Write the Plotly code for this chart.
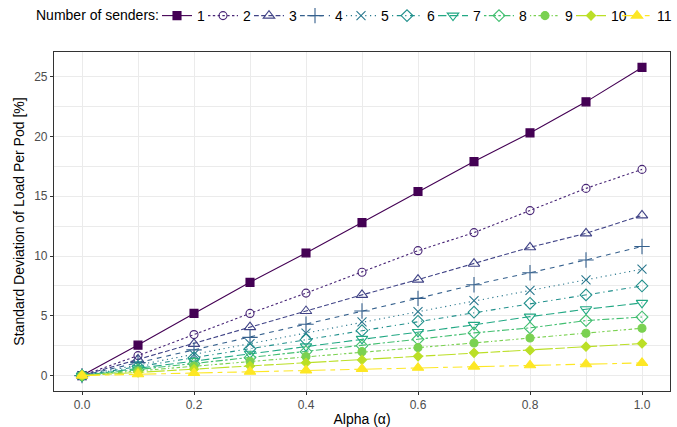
import plotly.graph_objects as go

alpha = [0.0, 0.1, 0.2, 0.3, 0.4, 0.5, 0.6, 0.7, 0.8, 0.9, 1.0]
senders = ["1", "2", "3", "4", "5", "6", "7", "8", "9", "10", "11"]

s1 = [0, 2.55, 5.2, 7.8, 10.26, 12.8, 15.4, 17.9, 20.3, 22.9, 25.78]
s2 = [0, 1.67, 3.43, 5.2, 6.9, 8.65, 10.45, 11.96, 13.8, 15.66, 17.25]
s3 = [0, 1.35, 2.65, 4.05, 5.4, 6.75, 8.03, 9.36, 10.73, 11.9, 13.4]
s4 = [0, 1.08, 2.15, 3.2, 4.3, 5.4, 6.46, 7.6, 8.6, 9.67, 10.8]
s5 = [0, 0.89, 1.78, 2.67, 3.56, 4.5, 5.35, 6.27, 7.13, 8.0, 8.9]
s6 = [0, 0.75, 1.5, 2.25, 3.0, 3.76, 4.54, 5.3, 6.05, 6.75, 7.5]
s7 = [0, 0.61, 1.22, 1.83, 2.44, 3.07, 3.65, 4.24, 4.93, 5.55, 6.08]
s8 = [0, 0.5, 1.0, 1.5, 2.0, 2.5, 3.04, 3.57, 3.99, 4.6, 4.9]
s9 = [0, 0.4, 0.8, 1.2, 1.6, 2.0, 2.34, 2.73, 3.15, 3.54, 3.96]
s10 = [0, 0.27, 0.54, 0.8, 1.07, 1.31, 1.61, 1.9, 2.12, 2.42, 2.68]
s11 = [0, 0.11, 0.21, 0.32, 0.43, 0.56, 0.65, 0.75, 0.86, 0.95, 1.06]
series = [s1, s2, s3, s4, s5, s6, s7, s8, s9, s10, s11]

colors = ["#440154", "#482576", "#414487", "#35608D", "#2A788E", "#21908C",
          "#22A884", "#43BF71", "#7AD151", "#BBDF27", "#FDE725"]
symbols = ["square", "circle-open", "triangle-up-open", "cross-thin-open", "x-thin-open",
           "diamond-open", "triangle-down-open", "diamond-open", "circle", "diamond", "triangle-up"]
sizes = [8, 8, 10, 11, 9, 9, 10, 9, 8, 7, 10]

u = 1.2
def dash(pat):
    if pat == "solid":
        return "solid"
    vals = [15 if c == "F" else int(c, 16) for c in pat]
    return ",".join(f"{v*u:.1f}px" for v in vals)

ltys = ["solid", "22", "42", "44", "13", "1343", "73", "2262", "12223242", "F282", "F4448444"]
lwidths = [1, 1, 1, 1, 1, 1, 1, 1, 1, 1, 16]

FONT = "Liberation Sans, Arial, sans-serif"

fig = go.Figure()
for i, (name, ys) in enumerate(zip(senders, series)):
    fig.add_trace(go.Scatter(
        x=alpha, y=ys, name=name, mode="lines+markers",
        line=dict(color=colors[i], width=1.1, dash=dash(ltys[i])),
        marker=dict(symbol=symbols[i], size=sizes[i], color=colors[i],
                    line=dict(color=colors[i], width=1.1)),
        legendwidth=lwidths[i],
    ))

fig.update_layout(
    width=677, height=427,
    margin=dict(l=54, r=7, t=52, b=36, autoexpand=False),
    paper_bgcolor="white", plot_bgcolor="white",
    font=dict(family=FONT, size=14, color="black"),
    showlegend=True,
    legend=dict(
        orientation="h", xref="container", yref="container",
        x=157 / 677, xanchor="left", y=1.0, yanchor="top",
        font=dict(size=14), itemwidth=30, tracegroupgap=0,
        bgcolor="rgba(0,0,0,0)",
    ),
    annotations=[dict(
        text="Number of senders:", xref="paper", yref="paper",
        x=(161 - 54) / 616, y=(391 - 15) / 339, xanchor="right", yanchor="middle",
        showarrow=False, font=dict(size=14, color="black"),
    )],
)

fig.update_xaxes(
    range=[-0.05, 1.05], tickvals=[0, 0.2, 0.4, 0.6, 0.8, 1.0], tickformat=".1f",
    showgrid=True, gridcolor="#EBEBEB", gridwidth=1.1,
    minor=dict(dtick=0.1, tick0=0, showgrid=True, gridcolor="#EBEBEB", gridwidth=0.6),
    showline=True, linecolor="#333333", linewidth=1.1, mirror=True,
    ticks="outside", ticklen=3, tickcolor="#333333", tickwidth=1.1,
    tickfont=dict(size=12, color="#4D4D4D"), zeroline=False,
    title=dict(text="Alpha (α)", font=dict(size=14), standoff=2),
)
fig.update_yaxes(
    range=[-1.29, 27.07], tickvals=[0, 5, 10, 15, 20, 25],
    showgrid=True, gridcolor="#EBEBEB", gridwidth=1.1,
    minor=dict(dtick=2.5, tick0=0, showgrid=True, gridcolor="#EBEBEB", gridwidth=0.6),
    showline=True, linecolor="#333333", linewidth=1.1, mirror=True,
    ticks="outside", ticklen=3, tickcolor="#333333", tickwidth=1.1,
    tickfont=dict(size=12, color="#4D4D4D"), zeroline=False,
    title=dict(text="Standard Deviation of Load Per Pod [%]", font=dict(size=14), standoff=6),
)

fig.write_html("out.html", config={"displayModeBar": False},
               post_script="document.body.style.margin='0';")
